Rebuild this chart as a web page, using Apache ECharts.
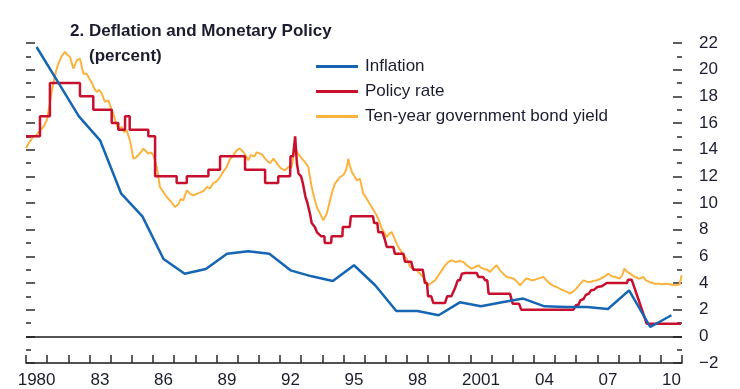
<!DOCTYPE html>
<html>
<head>
<meta charset="utf-8">
<script src="https://cdn.jsdelivr.net/npm/echarts@6/dist/echarts.min.js"></script>
<style>
html,body{margin:0;padding:0;background:#fff;}
#chart{width:740px;height:389px;}
</style>
</head>
<body>
<div id="chart"></div>
<script>
// ---- data ----
var years = [];
for (var y = 1980; y <= 2010; y++) years.push(String(y));
var xTickLabels = ['1980','83','86','89','92','95','98','2001','04','07','10'];
var yTickValues = [-2,0,2,4,6,8,10,12,14,16,18,20,22];

var inflation = [
[1980.5,21.7],[1981.5,19.1],[1982.5,16.5],[1983.5,14.7],[1984.5,10.7],[1985.5,9.0],
[1986.5,5.8],[1987.5,4.7],[1988.5,5.05],[1989.5,6.2],[1990.5,6.38],[1991.5,6.2],
[1992.5,4.95],[1993.5,4.5],[1994.5,4.15],[1995.5,5.33],[1996.5,3.83],[1997.5,1.9],
[1998.5,1.9],[1999.5,1.58],[2000.5,2.55],[2001.5,2.25],[2002.5,2.55],[2003.5,2.83],
[2004.5,2.25],[2005.5,2.2],[2006.5,2.2],[2007.5,2.05],[2008.5,3.45],[2009.5,0.7],[2010.5,1.58]
];

var policyRate = [
[1980.0,15],[1980.66,15],[1980.66,16.5],[1981.13,16.5],[1981.13,19],[1982.55,19],[1982.55,18],
[1983.18,18],[1983.18,17],[1984.05,17],[1984.05,16],[1984.36,16],[1984.36,15.5],[1984.68,15.5],
[1984.68,16.5],[1984.9,16.5],[1984.9,15.5],[1985.78,15.5],[1985.78,15],[1986.1,15],[1986.1,12],
[1987.12,12],[1987.12,11.5],[1987.6,11.5],[1987.6,12],[1988.62,12],[1988.62,12.5],[1989.17,12.5],
[1989.17,13.5],[1990.35,13.5],[1990.35,12.5],[1991.3,12.5],[1991.3,11.5],[1991.92,11.5],
[1991.92,12],[1992.48,12],[1992.5,13.5],[1992.62,13.5],[1992.72,15],[1992.8,13],[1992.88,12.2],
[1993.0,12],[1993.08,11.5],[1993.2,10.5],[1993.3,10],[1993.42,9.2],[1993.5,8.5],[1993.65,8.2],
[1993.75,7.8],[1993.95,7.5],[1994.1,7.5],[1994.12,7],[1994.42,7],[1994.44,7.5],[1994.95,7.5],
[1994.97,8.2],[1995.3,8.2],[1995.35,9],[1996.4,9],[1996.45,8.5],[1996.6,8.5],[1996.65,7.8],
[1996.85,7.8],[1996.95,7.3],[1997.0,7.3],[1997.05,6.7],[1997.36,6.7],[1997.43,6.2],[1997.83,6.2],
[1997.91,5.6],[1998.2,5.6],[1998.3,5],[1998.75,5],[1998.85,4],[1998.95,4],[1999.0,3],[1999.15,3],
[1999.25,2.5],[1999.8,2.5],[1999.9,3],[2000.1,3],[2000.27,3.6],[2000.4,4.2],[2000.5,4.2],
[2000.6,4.7],[2000.75,4.75],[2001.3,4.75],[2001.38,4.45],[2001.6,4.45],[2001.7,4.2],[2001.8,4.2],
[2001.86,3.2],[2002.87,3.2],[2003.0,2.45],[2003.3,2.45],[2003.4,2],[2005.87,2],[2006.0,2.35],
[2006.1,2.35],[2006.2,2.7],[2006.35,2.8],[2006.45,3.1],[2006.6,3.2],[2006.7,3.45],[2006.85,3.5],
[2007.0,3.7],[2007.2,3.75],[2007.44,4],[2008.4,4],[2008.45,4.25],[2008.62,4.25],[2009.0,2.5],
[2009.33,0.95],[2010.95,0.95]
];

var bondYield = [
[1980.0,14.1],[1980.17,14.6],[1980.34,14.95],[1980.5,15.1],[1980.66,15.45],[1980.82,15.7],[1980.98,16.2],
[1981.1,17.2],[1981.2,18.2],[1981.29,18.95],[1981.42,19.9],[1981.53,20.45],[1981.68,21.0],[1981.84,21.33],
[1981.96,21.1],[1982.08,20.95],[1982.24,20.07],[1982.4,20.7],[1982.55,20.83],[1982.71,19.7],[1982.87,19.7],
[1983.0,19.3],[1983.1,19.07],[1983.22,18.6],[1983.34,18.33],[1983.46,18.5],[1983.58,18.2],[1983.73,17.58],
[1983.89,17.7],[1984.0,17.2],[1984.13,16.7],[1984.25,16.0],[1984.36,15.58],[1984.52,15.7],[1984.64,15.3],
[1984.76,15.45],[1984.91,14.7],[1985.0,14.0],[1985.07,13.33],[1985.18,13.4],[1985.3,13.58],[1985.42,13.8],
[1985.54,14.08],[1985.66,13.9],[1985.78,13.7],[1985.9,13.8],[1986.02,13.58],[1986.18,12.7],[1986.33,11.2],
[1986.49,10.83],[1986.65,10.45],[1986.8,10.2],[1987.04,9.7],[1987.2,9.9],[1987.3,10.3],[1987.43,10.2],
[1987.6,10.95],[1987.75,10.7],[1987.91,10.58],[1988.1,10.7],[1988.3,10.83],[1988.42,10.95],[1988.54,11.2],
[1988.7,11.1],[1988.85,11.5],[1989.0,11.6],[1989.17,11.95],[1989.3,12.3],[1989.48,12.7],[1989.64,13.3],
[1989.8,13.58],[1989.96,13.95],[1990.1,14.1],[1990.27,13.83],[1990.4,13.5],[1990.5,13.2],[1990.62,13.58],
[1990.8,13.5],[1990.9,13.8],[1991.06,13.7],[1991.18,13.6],[1991.3,13.33],[1991.45,13.08],[1991.55,13.0],
[1991.69,13.33],[1991.8,13.1],[1991.92,12.83],[1992.05,12.6],[1992.24,12.45],[1992.4,12.7],[1992.55,12.7],
[1992.63,13.4],[1992.71,14.2],[1992.85,13.7],[1993.0,13.4],[1993.18,13.08],[1993.34,12.7],[1993.5,11.2],
[1993.62,10.4],[1993.74,9.7],[1993.9,9.2],[1994.05,8.7],[1994.21,9.2],[1994.37,10.2],[1994.48,10.9],
[1994.6,11.45],[1994.72,11.7],[1994.84,11.95],[1995.0,12.1],[1995.08,12.33],[1995.15,12.6],[1995.23,13.33],
[1995.3,12.8],[1995.4,12.33],[1995.52,12.0],[1995.63,11.7],[1995.78,11.83],[1995.94,10.7],[1996.1,10.33],
[1996.22,10.0],[1996.34,9.7],[1996.45,9.4],[1996.57,9.08],[1996.7,8.6],[1996.81,8.08],[1996.93,7.8],
[1997.05,7.45],[1997.17,7.7],[1997.28,7.83],[1997.4,7.4],[1997.52,6.95],[1997.63,6.6],[1997.75,6.33],
[1997.83,6.45],[1998.0,5.8],[1998.15,5.2],[1998.3,5.1],[1998.46,4.95],[1998.62,4.7],[1998.78,4.45],
[1998.9,4.1],[1999.0,3.83],[1999.15,4.0],[1999.33,4.2],[1999.5,4.6],[1999.65,4.95],[1999.8,5.3],
[1999.96,5.58],[2000.1,5.7],[2000.3,5.58],[2000.5,5.65],[2000.67,5.58],[2000.85,5.3],[2001.06,5.08],
[2001.22,5.2],[2001.38,5.33],[2001.5,5.15],[2001.61,5.08],[2001.78,5.0],[2001.93,4.83],[2002.08,5.1],
[2002.24,5.33],[2002.4,4.95],[2002.55,4.7],[2002.72,4.45],[2002.88,4.4],[2003.04,4.33],[2003.2,4.1],
[2003.35,3.83],[2003.5,4.1],[2003.62,4.33],[2003.75,4.3],[2003.9,4.2],[2004.05,4.25],[2004.2,4.33],
[2004.32,4.4],[2004.45,4.45],[2004.6,4.2],[2004.76,3.95],[2004.9,3.8],[2005.08,3.7],[2005.25,3.55],
[2005.4,3.45],[2005.55,3.35],[2005.7,3.2],[2005.85,3.35],[2006.0,3.58],[2006.17,3.9],[2006.34,4.2],
[2006.5,4.1],[2006.66,4.08],[2006.8,4.15],[2006.97,4.2],[2007.12,4.3],[2007.3,4.45],[2007.52,4.7],
[2007.68,4.5],[2007.85,4.45],[2008.05,4.33],[2008.18,4.6],[2008.28,5.08],[2008.4,4.85],[2008.55,4.7],
[2008.68,4.55],[2008.8,4.45],[2008.95,4.33],[2009.05,4.35],[2009.17,4.45],[2009.3,4.2],[2009.45,4.08],
[2009.6,4.0],[2009.75,3.95],[2009.89,3.95],[2010.05,3.9],[2010.2,3.95],[2010.4,3.9],[2010.6,3.85],
[2010.75,3.83],[2010.88,3.9],[2010.99,4.58]
];

// ---- chart ----
var FONT = '"Liberation Sans", Arial, sans-serif';
var TXT = '#1c1c30';
var chart = echarts.init(document.getElementById('chart'), null, {renderer: 'canvas'});

function yAxisCfg(pos, showLabel) {
  return {
    type: 'value', position: pos, min: -2, max: 22, interval: 2,
    axisLine: {show: false},
    splitLine: {show: false},
    axisTick: {show: true, inside: true, length: 9, lineStyle: {color: '#2a2a2a', width: 1.5}},
    minorTick: {show: true, splitNumber: 2, length: 5, lineStyle: {color: '#2a2a2a', width: 1.5}},
    axisLabel: {
      show: showLabel, margin: 17, color: TXT, fontFamily: FONT, fontSize: 17,
      formatter: function (v) { return v < 0 ? '\u2212' + Math.abs(v) : String(v); }
    }
  };
}

chart.setOption({
  animation: false,
  backgroundColor: '#fff',
  title: [
    {text: '2. Deflation and Monetary Policy', left: 65, top: 18,
     textStyle: {fontFamily: FONT, fontSize: 17, fontWeight: 'bold', color: TXT}},
    {text: '(percent)', left: 84, top: 43,
     textStyle: {fontFamily: FONT, fontSize: 17, fontWeight: 'bold', color: TXT}}
  ],
  legend: {
    orient: 'vertical', left: 311, top: 53,
    icon: 'rect', itemWidth: 42, itemHeight: 3, itemGap: 8,
    data: ['Inflation', 'Policy rate', 'Ten-year government bond yield'],
    textStyle: {fontFamily: FONT, fontSize: 17, color: TXT, lineHeight: 17, padding: [0, 0, 0, 2]}
  },
  grid: {left: 26, right: 58, top: 43, bottom: 26},
  xAxis: [
    {type: 'value', min: 1980, max: 2011, show: false},
    {type: 'category', data: years, boundaryGap: true, position: 'bottom',
     axisLine: {show: true, onZero: false, lineStyle: {color: '#1a1a1a', width: 1.5}},
     axisTick: {show: true, inside: true, length: 8, interval: 0, lineStyle: {color: '#2a2a2a', width: 1.5}},
     axisLabel: {show: true, interval: 0, margin: 9, color: TXT, fontFamily: FONT, fontSize: 17,
       formatter: function (v, i) { return i % 3 === 0 ? xTickLabels[i / 3] : ''; }},
     splitLine: {show: false}}
  ],
  yAxis: [yAxisCfg('right', true), yAxisCfg('left', false)],
  series: [
    {name: 'Ten-year government bond yield', type: 'line', xAxisIndex: 0, yAxisIndex: 0,
     data: bondYield, showSymbol: false, symbol: 'none',
     lineStyle: {color: '#fbb340', width: 2}, itemStyle: {color: '#fbb340'}, z: 2},
    {name: 'Policy rate', type: 'line', xAxisIndex: 0, yAxisIndex: 0,
     data: policyRate, showSymbol: false, symbol: 'none',
     lineStyle: {color: '#c8102e', width: 2.5}, itemStyle: {color: '#c8102e'}, z: 3},
    {name: 'Inflation', type: 'line', xAxisIndex: 0, yAxisIndex: 0,
     data: inflation, showSymbol: false, symbol: 'none',
     lineStyle: {color: '#1565b5', width: 2.5}, itemStyle: {color: '#1565b5'}, z: 4,
     markLine: {silent: true, symbol: 'none', label: {show: false},
       lineStyle: {color: '#1a1a1a', width: 1.5, type: 'solid'},
       data: [{yAxis: 0}]}}
  ]
});
</script>
</body>
</html>
